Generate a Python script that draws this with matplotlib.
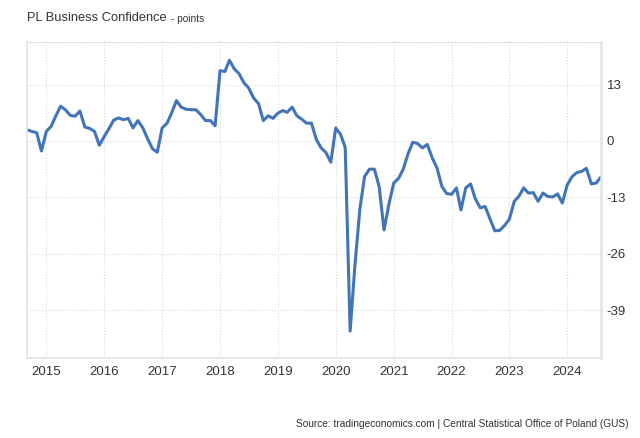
import pandas as pd
import matplotlib
matplotlib.use('Agg')
import matplotlib.pyplot as plt
import matplotlib.dates as mdates

# Dados mensais (set/2014 - ago/2024)
valores_2014 = [2.6, 2.2, 1.9, -2.3]
valores_2015 = [2.2, 3.4, 5.7, 8.0, 7.2, 5.9, 5.7, 6.9, 3.2, 2.9, 2.2, -1.0]
valores_2016 = [1.0, 2.9, 4.8, 5.3, 4.9, 5.2, 3.0, 4.7, 3.0, 0.5, -1.8, -2.6]
valores_2017 = [3.0, 4.1, 6.4, 9.3, 7.8, 7.3, 7.2, 7.2, 6.1, 4.7, 4.7, 3.5]
valores_2018 = [16.2, 16.0, 18.6, 16.6, 15.5, 13.4, 12.2, 9.9, 8.6, 4.7, 5.8, 5.2]
valores_2019 = [6.4, 7.0, 6.6, 7.8, 5.8, 5.0, 4.1, 4.1, 0.3, -1.6, -2.7, -4.9]
valores_2020 = [3.0, 1.5, -1.5, -43.8, -28.8, -15.8, -8.2, -6.5, -6.5, -10.5, -20.5, -14.7]
valores_2021 = [-9.7, -8.6, -6.6, -3.0, -0.3, -0.6, -1.6, -0.8, -3.9, -6.2, -10.5, -12.1]
valores_2022 = [-12.3, -10.8, -15.9, -10.8, -9.9, -13.4, -15.4, -15.1, -18.0, -20.7, -20.6, -19.5]
valores_2023 = [-18.0, -13.9, -12.8, -10.8, -12.0, -11.9, -13.9, -12.0, -12.8, -12.9, -12.2, -14.3]
valores_2024 = [-10.1, -8.2, -7.3, -7.0, -6.3, -9.9, -9.7, -8.3]

y_ticks = [13, 0, -13, -26, -39]
anos = list(range(2015, 2025))

valores = (valores_2014 + valores_2015 + valores_2016 + valores_2017 + valores_2018
           + valores_2019 + valores_2020 + valores_2021 + valores_2022 + valores_2023
           + valores_2024)
datas = pd.date_range('2014-09-01', periods=len(valores), freq='MS')

plt.rcParams['font.family'] = ['Liberation Sans', 'DejaVu Sans']

fig = plt.figure(figsize=(6.4, 4.38), dpi=100)
ax = fig.add_axes([27 / 640, 80 / 438, 574 / 640, 316 / 438])

ax.plot(datas, valores, color='#4275b8', linewidth=2.2,
        solid_capstyle='round', solid_joinstyle='round')

ax.set_xlim(datas[0], datas[-1])
ax.set_ylim(-50, 22.8)

# Eixo Y à direita
ax.yaxis.tick_right()
ax.set_yticks(y_ticks)
ax.set_yticklabels([str(t) for t in y_ticks])
ax.set_xticks([pd.Timestamp(f'{a}-01-01') for a in anos])
ax.xaxis.set_major_formatter(mdates.DateFormatter('%Y'))
ax.tick_params(axis='both', length=0, labelsize=9.5, colors='#333333')
ax.tick_params(axis='y', pad=4)
ax.tick_params(axis='x', pad=6)

ax.grid(True, color='#d9d9d9', linestyle=':', linewidth=0.8)

for lado in ['left', 'bottom', 'right']:
    ax.spines[lado].set_color('#e3e3e3')
    ax.spines[lado].set_linewidth(1.2)
ax.spines['right'].set_linewidth(1.8)
ax.spines['top'].set_color('#d9d9d9')
ax.spines['top'].set_linestyle(':')
ax.spines['top'].set_linewidth(0.8)

# Título e fonte
titulo = fig.text(27 / 640, 1 - 18 / 438, 'PL Business Confidence', fontsize=9.3,
                  color='#333333', va='center', ha='left')
fig.canvas.draw()
caixa = titulo.get_window_extent()
fig.text((caixa.x1 + 4) / 640, 1 - 19 / 438, '- points', fontsize=7.3,
         color='#333333', va='center', ha='left')
fig.text(629 / 640, 1 - 424 / 438,
         'Source: tradingeconomics.com | Central Statistical Office of Poland (GUS)',
         fontsize=7.3, color='#333333', va='center', ha='right')

fig.savefig('out.png', dpi=100)
